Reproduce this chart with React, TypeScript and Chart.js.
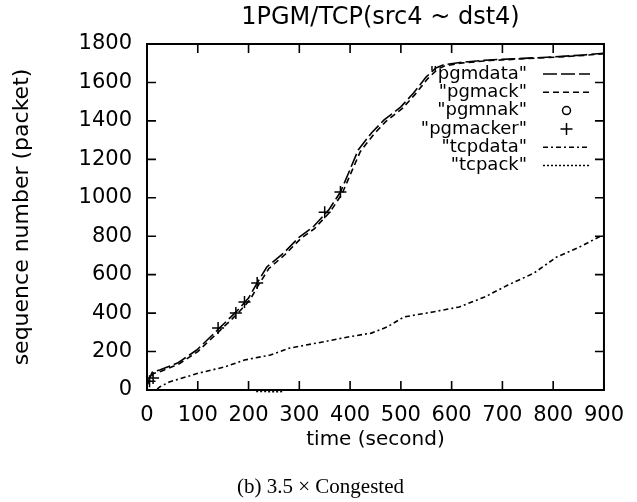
import React, { useEffect, useRef } from "react";
import { Chart, registerables } from "chart.js";

Chart.register(...registerables);

const TITLE = "1PGM/TCP(src4 ~ dst4)";
const X_LABEL = "time (second)";
const Y_LABEL = "sequence number (packet)";
const CAPTION = "(b) 3.5 \u00d7 Congested";

const X_TICKS = [0, 100, 200, 300, 400, 500, 600, 700, 800, 900];
const Y_TICKS = [0, 200, 400, 600, 800, 1000, 1200, 1400, 1600, 1800];

const pgmdataT = [0, 5, 10, 25, 60, 98, 140, 175, 200, 217, 236, 269, 300, 327, 358, 381, 397, 416, 442, 467, 500, 525, 550, 569, 583, 620, 673, 740, 800, 860, 900];
const pgmdataV = [30, 60, 92, 104, 140, 208, 315, 405, 478, 557, 640, 712, 796, 848, 937, 1030, 1129, 1249, 1337, 1405, 1473, 1545, 1629, 1675, 1691, 1705, 1717, 1725, 1733, 1743, 1752];

const pgmackT = [0, 6, 12, 28, 62, 100, 142, 178, 203, 220, 240, 272, 303, 330, 361, 384, 400, 420, 446, 470, 503, 528, 553, 572, 586, 622, 675, 742, 802, 862, 900];
const pgmackV = [25, 55, 85, 98, 134, 200, 305, 396, 470, 548, 632, 705, 788, 840, 928, 1020, 1118, 1240, 1328, 1396, 1465, 1538, 1620, 1668, 1686, 1702, 1714, 1723, 1731, 1741, 1750];

const pgmnakT: number[] = [];
const pgmnakV: number[] = [];

const pgmackerT = [5, 12, 140, 175, 192, 217, 350, 381];
const pgmackerV = [45, 62, 323, 400, 458, 557, 925, 1030];

const tcpdataT = [20, 25, 44, 102, 153, 192, 243, 281, 346, 396, 442, 473, 506, 563, 615, 665, 711, 762, 807, 852, 890, 900];
const tcpdataV = [5, 16, 42, 88, 120, 156, 182, 218, 250, 276, 296, 328, 380, 406, 432, 484, 546, 608, 692, 744, 796, 800];

const tcpackT = [215, 232, 250, 268];
const tcpackV = [-8, -8, -9, -8];

const pts = (t: number[], v: number[]) => t.map((x, i) => ({ x, y: v[i] }));

const FONT = "'DejaVu Sans', sans-serif";
const TL = 9;

const titlePlugin = {
  id: "gpTitle",
  afterDraw(chart: any) {
    const { ctx, chartArea } = chart;
    ctx.save();
    ctx.font = `24px ${FONT}`;
    ctx.fillStyle = "#000";
    ctx.textAlign = "center";
    ctx.textBaseline = "middle";
    ctx.fillText(TITLE, (chartArea.left + chartArea.right) / 2 + 5, 18);
    ctx.restore();
  },
};

const framePlugin = {
  id: "frame",
  afterDatasetsDraw(chart: any) {
    const { ctx, chartArea } = chart;
    const { left, right, top, bottom } = chartArea;
    const xs = chart.scales.x;
    const ys = chart.scales.y;
    ctx.save();
    ctx.strokeStyle = "#000";
    ctx.lineWidth = 2;
    ctx.setLineDash([]);
    ctx.strokeRect(left, top, right - left, bottom - top);
    ctx.lineWidth = 1.6;
    ctx.beginPath();
    X_TICKS.forEach((v) => {
      const px = xs.getPixelForValue(v);
      ctx.moveTo(px, bottom);
      ctx.lineTo(px, bottom - TL);
      ctx.moveTo(px, top);
      ctx.lineTo(px, top + TL);
    });
    Y_TICKS.forEach((v) => {
      const py = ys.getPixelForValue(v);
      ctx.moveTo(left, py);
      ctx.lineTo(left + TL, py);
      ctx.moveTo(right, py);
      ctx.lineTo(right - TL, py);
    });
    ctx.stroke();
    ctx.restore();
  },
};

const legendPlugin = {
  id: "gpLegend",
  afterDraw(chart: any) {
    const { ctx } = chart;
    const textRight = 527;
    const sx0 = 543;
    const sx1 = 590;
    const y0 = 74;
    const dy = 18.3;
    ctx.save();
    ctx.font = `18px ${FONT}`;
    ctx.fillStyle = "#000";
    ctx.textAlign = "right";
    ctx.textBaseline = "middle";
    chart.data.datasets.forEach((ds: any, i: number) => {
      const y = y0 + i * dy;
      ctx.fillText(`"${ds.label}"`, textRight, y);
      ctx.strokeStyle = "#000";
      if (ds.showLine === false) {
        ctx.setLineDash([]);
        ctx.lineWidth = 1.5;
        const cx = (sx0 + sx1) / 2;
        ctx.beginPath();
        if (ds.pointStyle === "circle") {
          ctx.arc(cx, y, 4, 0, Math.PI * 2);
        } else {
          ctx.moveTo(cx - 6, y);
          ctx.lineTo(cx + 6, y);
          ctx.moveTo(cx, y - 6);
          ctx.lineTo(cx, y + 6);
        }
        ctx.stroke();
      } else {
        ctx.lineWidth = ds.borderWidth;
        ctx.setLineDash(ds.borderDash || []);
        ctx.beginPath();
        ctx.moveTo(sx0, y);
        ctx.lineTo(sx1, y);
        ctx.stroke();
      }
    });
    ctx.restore();
  },
};

export default function App() {
  const ref = useRef<HTMLCanvasElement | null>(null);

  useEffect(() => {
    if (!ref.current) return;
    const lineDs = (label: string, t: number[], v: number[], dash: number[], extra: any = {}) => ({
      label,
      data: pts(t, v),
      borderColor: "#000",
      backgroundColor: "#000",
      borderWidth: 1.6,
      borderDash: dash,
      pointRadius: 0,
      tension: 0,
      fill: false,
      ...extra,
    });
    const chart = new Chart(ref.current, {
      type: "line",
      data: {
        datasets: [
          lineDs("pgmdata", pgmdataT, pgmdataV, [14, 4]),
          lineDs("pgmack", pgmackT, pgmackV, [6, 4]),
          {
            label: "pgmnak",
            data: pts(pgmnakT, pgmnakV),
            showLine: false,
            pointStyle: "circle",
            pointRadius: 4,
            borderColor: "#000",
            backgroundColor: "rgba(0,0,0,0)",
            borderWidth: 1.5,
          },
          {
            label: "pgmacker",
            data: pts(pgmackerT, pgmackerV),
            showLine: false,
            pointStyle: "cross",
            pointRadius: 6,
            borderColor: "#000",
            backgroundColor: "#000",
            borderWidth: 1.5,
          },
          lineDs("tcpdata", tcpdataT, tcpdataV, [5, 3, 2, 3]),
          lineDs("tcpack", tcpackT, tcpackV, [2, 2], { clip: false }),
        ],
      },
      options: {
        responsive: false,
        animation: false,
        layout: { padding: { left: 0, right: 22, top: 44, bottom: 0 } },
        plugins: {
          legend: { display: false },
          tooltip: { enabled: false },
          title: { display: false },
        },
        scales: {
          x: {
            type: "linear",
            min: 0,
            max: 900,
            afterFit: (s: any) => {
              s.height = 112;
            },
            afterBuildTicks: (s: any) => {
              s.ticks = X_TICKS.map((v) => ({ value: v }));
            },
            grid: { display: false, drawTicks: false },
            border: { display: false },
            ticks: {
              color: "#000",
              font: { family: FONT, size: 21 },
              padding: 13,
              maxRotation: 0,
              autoSkip: false,
              callback: (v: any) => String(v),
            },
            title: {
              display: true,
              text: X_LABEL,
              color: "#000",
              font: { family: FONT, size: 20 },
              padding: { bottom: 50 },
            },
          },
          y: {
            type: "linear",
            min: 0,
            max: 1800,
            afterFit: (s: any) => {
              s.width = 147;
            },
            afterBuildTicks: (s: any) => {
              s.ticks = Y_TICKS.map((v) => ({ value: v }));
            },
            grid: { display: false, drawTicks: false },
            border: { display: false },
            ticks: {
              color: "#000",
              font: { family: FONT, size: 21 },
              padding: 15,
              autoSkip: false,
              callback: (v: any) => String(v),
            },
            title: {
              display: true,
              text: Y_LABEL,
              color: "#000",
              font: { family: FONT, size: 22 },
              padding: { top: 9 },
            },
          },
        },
      },
      plugins: [framePlugin, legendPlugin, titlePlugin],
    });
    return () => chart.destroy();
  }, []);

  return (
    <div style={{ position: "absolute", left: 0, top: 0, width: 637, height: 502, background: "#fff" }}>
      <canvas ref={ref} width={637} height={502} style={{ display: "block", width: 637, height: 502 }} />
      <div
        style={{
          position: "absolute",
          left: 237,
          top: 474,
          fontFamily: "'Liberation Serif', serif",
          fontSize: 21,
          lineHeight: "24px",
          whiteSpace: "nowrap",
          color: "#000",
        }}
      >
        {CAPTION}
      </div>
    </div>
  );
}
